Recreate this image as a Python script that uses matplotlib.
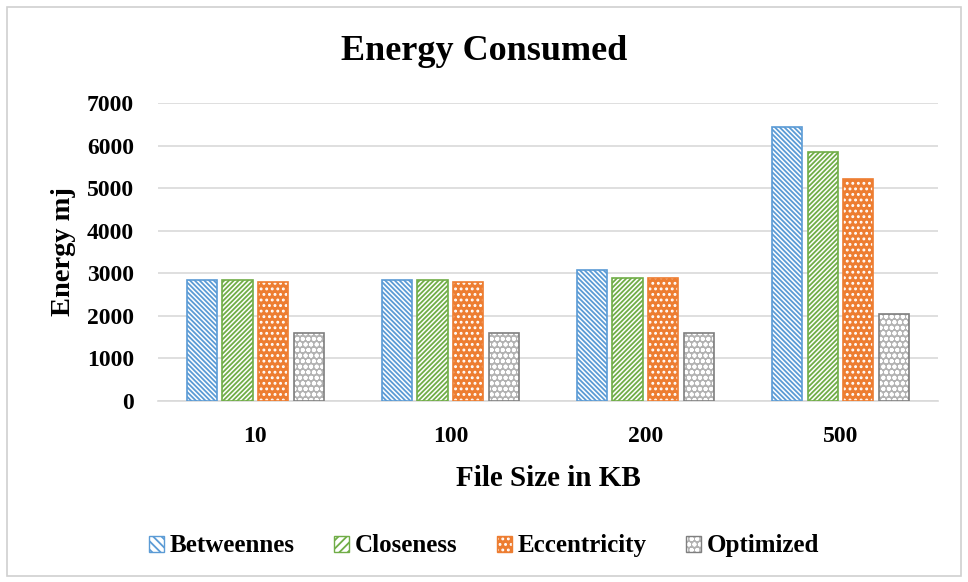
import numpy as np
import matplotlib
matplotlib.use("Agg")
import matplotlib.pyplot as plt
from matplotlib.patches import Patch, Rectangle
from matplotlib.legend_handler import HandlerTuple

# data
sizes = ["10", "100", "200", "500"]
betweennes = [2850, 2850, 3080, 6430]
closeness = [2850, 2850, 2900, 5850]
eccentricity = [2800, 2800, 2900, 5210]
optimized = [1600, 1600, 1600, 2040]

BLUE, GREEN, ORANGE, GRAY = "#5b9bd5", "#70ad47", "#ed7d31", "#a5a5a5"

plt.rcParams.update({
    "font.family": "serif",
    "font.serif": ["Liberation Serif", "DejaVu Serif"],
    "font.weight": "bold",
    "hatch.linewidth": 1.3,
})

fig = plt.figure(figsize=(9.68, 5.82), dpi=100)
fig.patches.append(Rectangle((0.007, 0.01), 0.986, 0.978, transform=fig.transFigure,
                             fill=False, edgecolor="#d0d0d0", lw=1.2))
ax = fig.add_axes([0.163, 0.311, 0.806, 0.512])

x = np.arange(len(sizes))
w, step = 0.155, 0.1825
# (values, face, hatch colour, hatch, outline, label)
series = [
    (betweennes, "white", BLUE, "\\" * 7, BLUE, "Betweennes"),
    (closeness, "white", GREEN, "/" * 7, GREEN, "Closeness"),
    (eccentricity, ORANGE, "white", "...", ORANGE, "Eccentricity"),
    (optimized, "#b3b3b3", "white", "ooo", "#7f7f7f", "Optimized"),
]
handles = []
for i, (vals, face, hc, hatch, edge, label) in enumerate(series):
    pos = x + (i - 1.5) * step
    ax.bar(pos, vals, w, color=face, edgecolor=hc, hatch=hatch, lw=0, zorder=3)
    ax.bar(pos, vals, w, fill=False, edgecolor=edge, lw=1.2, zorder=4)
    handles.append((Patch(facecolor=face, edgecolor=hc, hatch=hatch[:4], lw=0),
                    Patch(fill=False, edgecolor=edge, lw=1.0)))

ax.set_ylim(0, 7000)
ax.set_xlim(-0.5, 3.5)
ax.set_yticks(range(0, 7001, 1000))
ax.set_xticks(x)
ax.set_xticklabels(sizes)
ax.yaxis.grid(True, color="#d9d9d9", lw=1.2, zorder=0)
for s in ["top", "right", "left"]:
    ax.spines[s].set_visible(False)
ax.spines["bottom"].set_color("#d9d9d9")
ax.spines["bottom"].set_linewidth(1.2)
ax.tick_params(length=0, labelsize=17)
ax.tick_params(axis="y", pad=17)
ax.tick_params(axis="x", pad=18)
ax.set_xlabel("File Size in KB", fontsize=21, fontweight="bold", labelpad=13)
ax.set_ylabel("Energy mj", fontsize=20.5, fontweight="bold", labelpad=8)
fig.text(0.5, 1 - 60 / 582, "Energy Consumed", fontsize=26, fontweight="bold",
         ha="center", va="baseline")

fig.legend(handles, [s[-1] for s in series], loc="center", bbox_to_anchor=(0.5, 0.062),
           ncol=4, frameon=False, fontsize=18, handlelength=0.6, handleheight=0.6,
           handletextpad=0.25, columnspacing=1.55,
           handler_map={tuple: HandlerTuple(ndivide=1)})

fig.savefig("out.png", dpi=100)
